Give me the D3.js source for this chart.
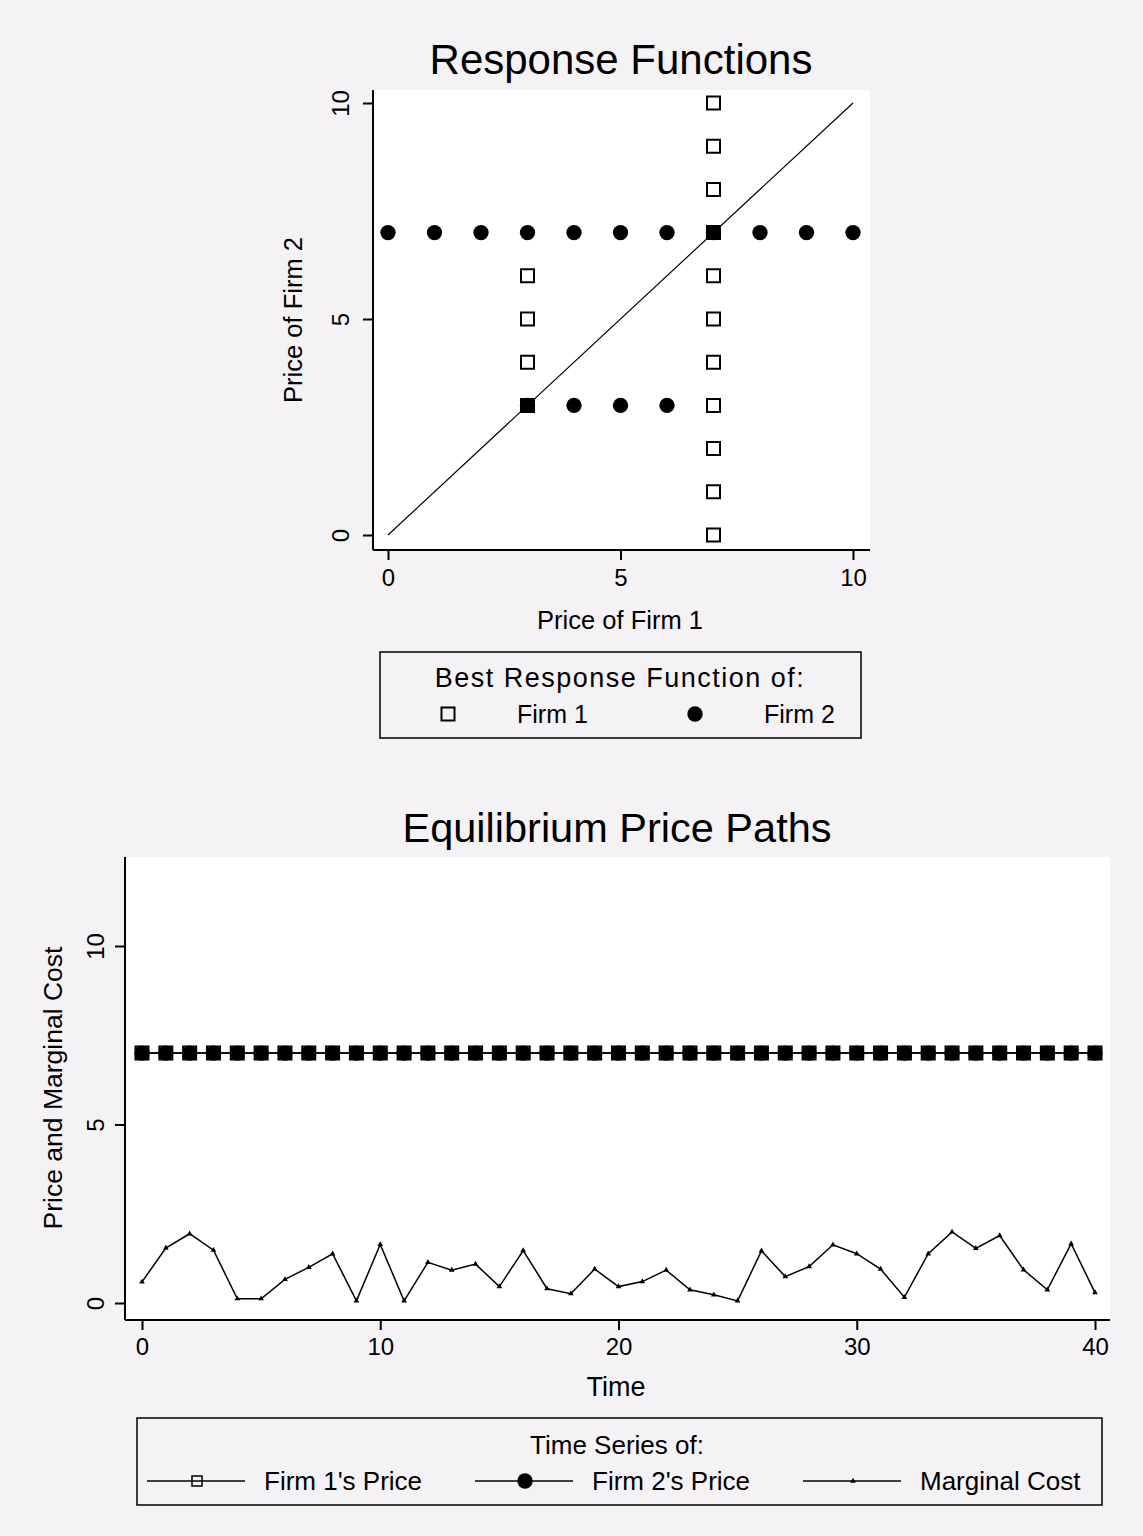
<!DOCTYPE html>
<html>
<head>
<meta charset="utf-8">
<script src="https://cdn.jsdelivr.net/npm/d3@7"></script>
<style>
  body { margin: 0; background: #f5f2f6; }
  svg text { font-family: "Liberation Sans", Arial, sans-serif; fill: #000; }
</style>
</head>
<body>
<svg id="chart"></svg>
<script>
// --- top chart: best response points ---
let firm1X = [7, 7, 7, 7, 7, 7, 7, 7, 7, 7, 7, 3, 3, 3, 3];
let firm1Y = [0, 1, 2, 3, 4, 5, 6, 7, 8, 9, 10, 3, 4, 5, 6];
let firm2X = [0, 1, 2, 3, 4, 5, 6, 7, 8, 9, 10, 3, 4, 5, 6];
let firm2Y = [7, 7, 7, 7, 7, 7, 7, 7, 7, 7, 7, 3, 3, 3, 3];
let diagonal = [0, 10];
let topTicks = [0, 5, 10];
let topLegend = ["Firm 1", "Firm 2"];

// --- bottom chart: time series ---
let time = [0, 1, 2, 3, 4, 5, 6, 7, 8, 9, 10, 11, 12, 13, 14, 15, 16, 17, 18, 19, 20,
            21, 22, 23, 24, 25, 26, 27, 28, 29, 30, 31, 32, 33, 34, 35, 36, 37, 38, 39, 40];
let firm1Price = [7, 7, 7, 7, 7, 7, 7, 7, 7, 7, 7, 7, 7, 7, 7, 7, 7, 7, 7, 7, 7,
                  7, 7, 7, 7, 7, 7, 7, 7, 7, 7, 7, 7, 7, 7, 7, 7, 7, 7, 7, 7];
let firm2Price = [7, 7, 7, 7, 7, 7, 7, 7, 7, 7, 7, 7, 7, 7, 7, 7, 7, 7, 7, 7, 7,
                  7, 7, 7, 7, 7, 7, 7, 7, 7, 7, 7, 7, 7, 7, 7, 7, 7, 7, 7, 7];
let marginalCost = [0.59, 1.54, 1.94, 1.48, 0.12, 0.12, 0.66, 1.0, 1.38, 0.06, 1.64,
                    0.06, 1.14, 0.92, 1.09, 0.46, 1.47, 0.40, 0.26, 0.95, 0.46,
                    0.60, 0.92, 0.37, 0.23, 0.06, 1.46, 0.74, 1.02, 1.63, 1.38,
                    0.95, 0.16, 1.38, 1.99, 1.53, 1.89, 0.93, 0.37, 1.66, 0.29];
let timeTicks = [0, 10, 20, 30, 40];
let priceTicks = [0, 5, 10];
let bottomLegend = ["Firm 1's Price", "Firm 2's Price", "Marginal Cost"];

let width  = 1143;
let height = 1536;
let svg = d3.select("#chart").attr("width", width).attr("height", height);

svg.append("rect").attr("width", width).attr("height", height).attr("fill", "#f5f2f6");

let square   = d3.symbol().type(d3.symbolSquare).size(169);
let dot      = d3.symbol().type(d3.symbolCircle).size(185);
let triangle = d3.symbol().type(d3.symbolTriangle).size(14);

function styleAxis(g) {
  g.select(".domain").remove();
  g.selectAll(".tick line").attr("stroke", "#000").attr("stroke-width", 2);
  g.selectAll(".tick text").attr("font-size", 24).attr("fill", "#000")
    .attr("font-family", "Liberation Sans, Arial, sans-serif");
}

function rotateYLabels(g, offset) {
  g.selectAll(".tick text")
    .attr("transform", "rotate(-90)")
    .attr("x", 0)
    .attr("y", -offset)
    .attr("dy", 0)
    .attr("text-anchor", "middle");
}

function drawSquare(sel) {
  sel.attr("d", square).attr("fill", "none").attr("stroke", "#000").attr("stroke-width", 2);
}
function drawDot(sel) {
  sel.attr("d", dot).attr("fill", "#000");
}

// ================= TOP CHART =================
let topBox = { left: 373, right: 870, top: 90, bottom: 550 };
let x1 = d3.scaleLinear().domain([0, 10]).range([388, 853]);
let y1 = d3.scaleLinear().domain([0, 10]).range([535, 103]);

svg.append("rect")
  .attr("x", topBox.left).attr("y", topBox.top)
  .attr("width", topBox.right - topBox.left).attr("height", topBox.bottom - topBox.top)
  .attr("fill", "#fff");

svg.append("text")
  .attr("x", 621).attr("y", 74)
  .attr("text-anchor", "middle").attr("font-size", 42)
  .text("Response Functions");

// diagonal
svg.append("path")
  .attr("fill", "none").attr("stroke", "#000").attr("stroke-width", 1.2)
  .attr("d", d3.line().x(d => x1(d)).y(d => y1(d))(diagonal));

// firm 1 squares
svg.append("g").selectAll("path").data(firm1X).join("path")
  .attr("transform", (d, i) => "translate(" + x1(d) + "," + y1(firm1Y[i]) + ")")
  .call(drawSquare);

// firm 2 dots
svg.append("g").selectAll("path").data(firm2X).join("path")
  .attr("transform", (d, i) => "translate(" + x1(d) + "," + y1(firm2Y[i]) + ")")
  .call(drawDot);

// axes
svg.append("line").attr("x1", topBox.left).attr("x2", topBox.left)
  .attr("y1", topBox.top).attr("y2", topBox.bottom).attr("stroke", "#000").attr("stroke-width", 2);
svg.append("line").attr("x1", topBox.left).attr("x2", topBox.right)
  .attr("y1", topBox.bottom).attr("y2", topBox.bottom).attr("stroke", "#000").attr("stroke-width", 2);

svg.append("g").attr("transform", "translate(0," + topBox.bottom + ")")
  .call(d3.axisBottom(x1).tickValues(topTicks).tickSize(10).tickPadding(9))
  .call(styleAxis);

svg.append("g").attr("transform", "translate(" + topBox.left + ",0)")
  .call(d3.axisLeft(y1).tickValues(topTicks).tickSize(10))
  .call(styleAxis)
  .call(g => rotateYLabels(g, 24));

svg.append("text")
  .attr("x", 620).attr("y", 629)
  .attr("text-anchor", "middle").attr("font-size", 25.5)
  .text("Price of Firm 1");

svg.append("text")
  .attr("transform", "translate(302,320) rotate(-90)")
  .attr("text-anchor", "middle").attr("font-size", 25.5)
  .text("Price of Firm 2");

// legend 1
svg.append("rect")
  .attr("x", 380).attr("y", 652).attr("width", 481).attr("height", 86)
  .attr("fill", "none").attr("stroke", "#000").attr("stroke-width", 1.5);
svg.append("text")
  .attr("x", 620).attr("y", 687)
  .attr("text-anchor", "middle").attr("font-size", 27).attr("letter-spacing", 1.5)
  .text("Best Response Function of:");

let leg1 = svg.append("g").selectAll("g").data(topLegend).join("g")
  .attr("transform", (d, i) => "translate(" + (448 + i * 247) + ",714)");
leg1.append("path").each(function (d, i) {
  d3.select(this).call(i === 0 ? drawSquare : drawDot);
});
leg1.append("text")
  .attr("x", 69).attr("y", 9)
  .attr("font-size", 25)
  .text(d => d);

// ================= BOTTOM CHART =================
let botBox = { left: 125, right: 1110, top: 857, bottom: 1320 };
let x2 = d3.scaleLinear().domain([0, 40]).range([142, 1095]);
let y2 = d3.scaleLinear().domain([0, 10]).range([1303, 946]);

svg.append("rect")
  .attr("x", botBox.left).attr("y", botBox.top)
  .attr("width", botBox.right - botBox.left).attr("height", botBox.bottom - botBox.top)
  .attr("fill", "#fff");

svg.append("text")
  .attr("x", 617).attr("y", 842)
  .attr("text-anchor", "middle").attr("font-size", 41.5)
  .text("Equilibrium Price Paths");

let line2 = d3.line().x((d, i) => x2(time[i])).y(d => y2(d));

svg.append("path")
  .attr("fill", "none").attr("stroke", "#000").attr("stroke-width", 1.5)
  .attr("d", line2(firm1Price));
svg.append("path")
  .attr("fill", "none").attr("stroke", "#000").attr("stroke-width", 1.5)
  .attr("d", line2(firm2Price));
svg.append("path")
  .attr("fill", "none").attr("stroke", "#000").attr("stroke-width", 1.5)
  .attr("d", line2(marginalCost));

svg.append("g").selectAll("path").data(firm1Price).join("path")
  .attr("transform", (d, i) => "translate(" + x2(time[i]) + "," + y2(d) + ")")
  .call(drawSquare);
svg.append("g").selectAll("path").data(firm2Price).join("path")
  .attr("transform", (d, i) => "translate(" + x2(time[i]) + "," + y2(d) + ")")
  .call(drawDot);
svg.append("g").selectAll("path").data(marginalCost).join("path")
  .attr("transform", (d, i) => "translate(" + x2(time[i]) + "," + y2(d) + ")")
  .attr("d", triangle).attr("fill", "#000");

svg.append("line").attr("x1", botBox.left).attr("x2", botBox.left)
  .attr("y1", botBox.top).attr("y2", botBox.bottom).attr("stroke", "#000").attr("stroke-width", 2);
svg.append("line").attr("x1", botBox.left).attr("x2", botBox.right)
  .attr("y1", botBox.bottom).attr("y2", botBox.bottom).attr("stroke", "#000").attr("stroke-width", 2);

svg.append("g").attr("transform", "translate(0," + botBox.bottom + ")")
  .call(d3.axisBottom(x2).tickValues(timeTicks).tickSize(10).tickPadding(8))
  .call(styleAxis);

svg.append("g").attr("transform", "translate(" + botBox.left + ",0)")
  .call(d3.axisLeft(y2).tickValues(priceTicks).tickSize(10))
  .call(styleAxis)
  .call(g => rotateYLabels(g, 21));

svg.append("text")
  .attr("x", 616).attr("y", 1396)
  .attr("text-anchor", "middle").attr("font-size", 27)
  .text("Time");

svg.append("text")
  .attr("transform", "translate(62,1088) rotate(-90)")
  .attr("text-anchor", "middle").attr("font-size", 26.5)
  .text("Price and Marginal Cost");

// legend 2
svg.append("rect")
  .attr("x", 137).attr("y", 1418).attr("width", 965).attr("height", 87)
  .attr("fill", "none").attr("stroke", "#000").attr("stroke-width", 1.5);
svg.append("text")
  .attr("x", 617).attr("y", 1454)
  .attr("text-anchor", "middle").attr("font-size", 26)
  .text("Time Series of:");

let leg2 = svg.append("g").selectAll("g").data(bottomLegend).join("g")
  .attr("transform", (d, i) => "translate(" + (147 + i * 328) + ",1481)");
leg2.append("line")
  .attr("x1", 0).attr("x2", 98).attr("y1", 0).attr("y2", 0)
  .attr("stroke", "#000").attr("stroke-width", 1.5);
leg2.append("path")
  .attr("transform", "translate(50,0)")
  .each(function (d, i) {
    let p = d3.select(this);
    if (i === 0) p.attr("d", d3.symbol().type(d3.symbolSquare).size(100)).attr("fill", "none").attr("stroke", "#000").attr("stroke-width", 1.5);
    else if (i === 1) p.call(drawDot);
    else p.attr("d", triangle).attr("fill", "#000");
  });
leg2.append("text")
  .attr("x", 117).attr("y", 9)
  .attr("font-size", 26)
  .text(d => d);
</script>
</body>
</html>
